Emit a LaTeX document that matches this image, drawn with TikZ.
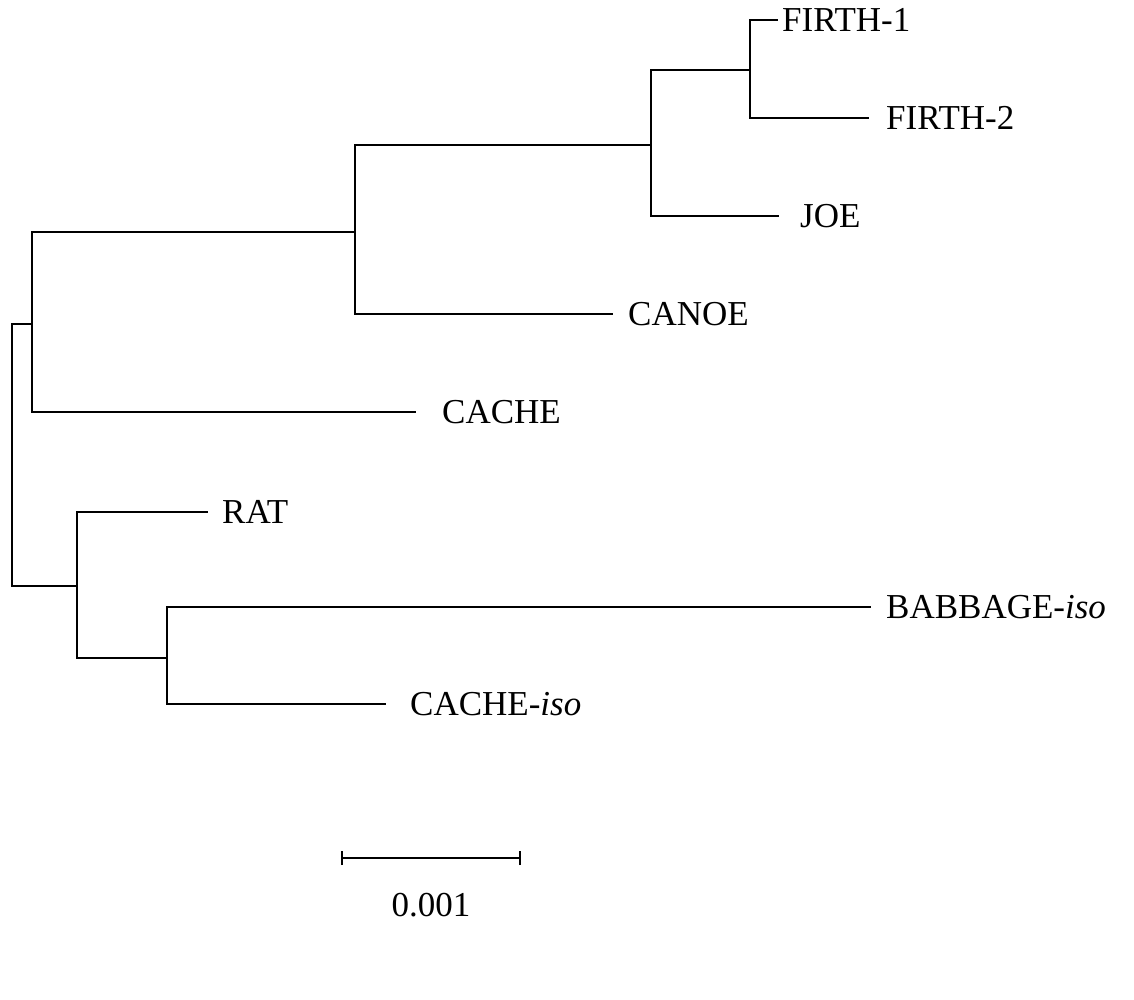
\documentclass[tikz,border=0pt]{standalone}
\usepackage{fontspec}
\setmainfont{Liberation Serif}
\begin{document}
\begin{tikzpicture}[x=1pt,y=-1pt,
  br/.style={line width=1.9pt, line cap=rect},
  lab/.style={anchor=west, inner sep=0pt, font=\fontsize{35}{40}\selectfont}]
\useasboundingbox (0,0) rectangle (1134,999);
% internal nodes
\coordinate (root) at (12,455);
\coordinate (up) at (32,324);
\coordinate (can) at (355,232);
\coordinate (fj) at (651,145);
\coordinate (f) at (750,70);
\coordinate (low) at (77,586);
\coordinate (iso) at (167,658);
% leaf ends
\coordinate (f1) at (777,20);
\coordinate (f2) at (868,118);
\coordinate (joe) at (778,216);
\coordinate (canoe) at (612,314);
\coordinate (cache) at (415,412);
\coordinate (rat) at (207,512);
\coordinate (bab) at (870,607);
\coordinate (cacheiso) at (385,704);
% labels
\node[lab] (tf1) at (782,20) {FIRTH-1};
\node[lab] (tf2) at (886,118) {FIRTH-2};
\node[lab] (tjoe) at (800,216) {JOE};
\node[lab] (tcanoe) at (628,314) {CANOE};
\node[lab] (tcache) at (442,412) {CACHE};
\node[lab] (trat) at (222,512) {RAT};
\node[lab] (tbab) at (886,607) {BABBAGE-\textit{iso}};
\node[lab] (tcacheiso) at (410,704) {CACHE-\textit{iso}};
% branches
\draw[br] (root) |- (up);
\draw[br] (root) |- (low);
\draw[br] (up) |- (can);
\draw[br] (up) |- (cache);
\draw[br] (can) |- (fj);
\draw[br] (can) |- (canoe);
\draw[br] (fj) |- (f);
\draw[br] (fj) |- (joe);
\draw[br] (f) |- (f1);
\draw[br] (f) |- (f2);
\draw[br] (low) |- (rat);
\draw[br] (low) |- (iso);
\draw[br] (iso) |- (bab);
\draw[br] (iso) |- (cacheiso);
% scale bar
\coordinate (s1) at (342,858);
\coordinate (s2) at (520,858);
\draw[br] (s1) -- (s2);
\draw[line width=1.9pt] ([yshift=-7pt]s1) -- ([yshift=7pt]s1);
\draw[line width=1.9pt] ([yshift=-7pt]s2) -- ([yshift=7pt]s2);
\node[lab, anchor=center] (scale) at (431,905) {0.001};
\end{tikzpicture}
\end{document}
